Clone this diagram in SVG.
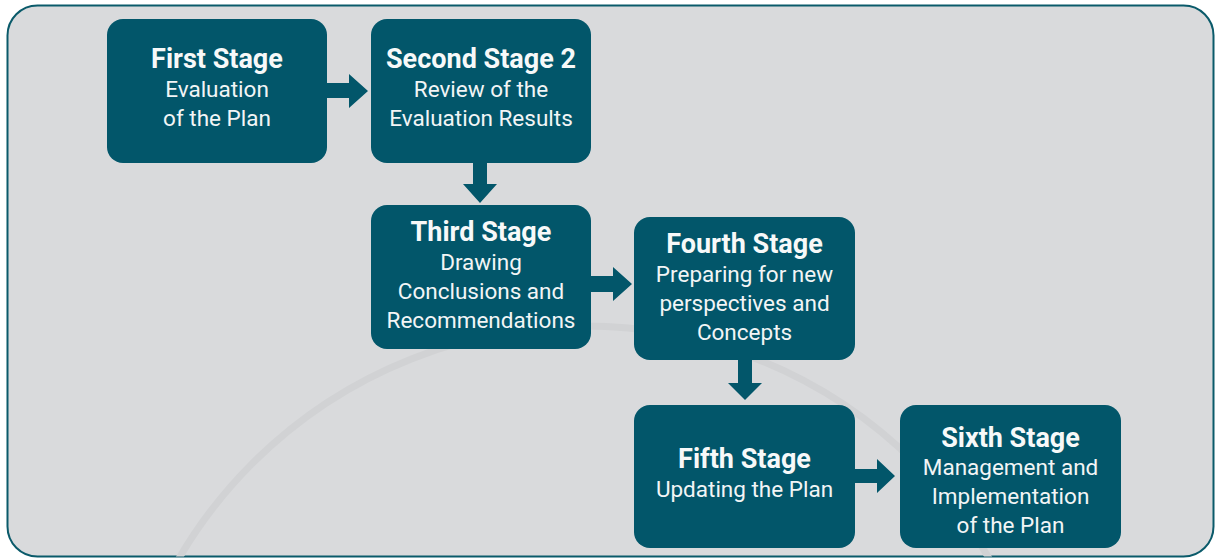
<svg xmlns="http://www.w3.org/2000/svg" width="1216" height="560" viewBox="0 0 1216 560">
<style>
.box{fill:#02566a}
.t{font-family:Roboto,"Noto Sans",sans-serif;font-weight:700;font-size:27px;fill:#f7f9f9;text-anchor:middle}
.b{font-family:Roboto,"Noto Sans",sans-serif;font-size:22.5px;fill:#f2f5f6;text-anchor:middle}
.arr{fill:#02566a}
</style>
<defs>
<clipPath id="bgclip"><rect x="7.5" y="5.5" width="1206" height="551" rx="30"/></clipPath>
</defs>
<rect width="1216" height="560" fill="#ffffff"/>
<rect x="7.5" y="5.5" width="1206" height="551" rx="30" fill="#d9dadc" stroke="#0a5a6a" stroke-width="2"/>
<g clip-path="url(#bgclip)">
<circle cx="584" cy="795" r="469" fill="none" stroke="#d1d2d4" stroke-width="7"/>
</g>
<g id="connectors">
<polygon class="arr" points="327,83 349,83 349,74 368,91 349,108 349,98 327,98"/>
<polygon class="arr" points="473,163 487,163 487,184 497,184 480,203 463,184 473,184"/>
<polygon class="arr" points="591,276 613,276 613,267 632,284 613,301 613,292 591,292"/>
<polygon class="arr" points="738,360 752,360 752,383 762,383 745,400 728,383 738,383"/>
<polygon class="arr" points="855,469 877,469 877,459 895,476 877,493 877,483 855,483"/>
</g>
<g id="node1">
<rect class="box" x="107" y="19" width="220" height="144" rx="16"/>
<text class="t" x="217" y="68">First Stage</text>
<text class="b" x="217" y="97">Evaluation</text>
<text class="b" x="217" y="126">of the Plan</text>
</g>
<g id="node2">
<rect class="box" x="371" y="19" width="220" height="144" rx="16"/>
<text class="t" x="481" y="68">Second Stage 2</text>
<text class="b" x="481" y="97">Review of the</text>
<text class="b" x="481" y="126">Evaluation Results</text>
</g>
<g id="node3">
<rect class="box" x="371" y="205" width="220" height="144" rx="16"/>
<text class="t" x="481" y="241">Third Stage</text>
<text class="b" x="481" y="270">Drawing</text>
<text class="b" x="481" y="299">Conclusions and</text>
<text class="b" x="481" y="328">Recommendations</text>
</g>
<g id="node4">
<rect class="box" x="634" y="217" width="221" height="143" rx="16"/>
<text class="t" x="744.5" y="253">Fourth Stage</text>
<text class="b" x="744.5" y="282">Preparing for new</text>
<text class="b" x="744.5" y="311">perspectives and</text>
<text class="b" x="744.5" y="340">Concepts</text>
</g>
<g id="node5">
<rect class="box" x="634" y="405" width="221" height="143" rx="16"/>
<text class="t" x="744.5" y="468">Fifth Stage</text>
<text class="b" x="744.5" y="497">Updating the Plan</text>
</g>
<g id="node6">
<rect class="box" x="900" y="405" width="221" height="143" rx="16"/>
<text class="t" x="1010.5" y="447">Sixth Stage</text>
<text class="b" x="1010.5" y="475">Management and</text>
<text class="b" x="1010.5" y="504">Implementation</text>
<text class="b" x="1010.5" y="533">of the Plan</text>
</g>
</svg>
